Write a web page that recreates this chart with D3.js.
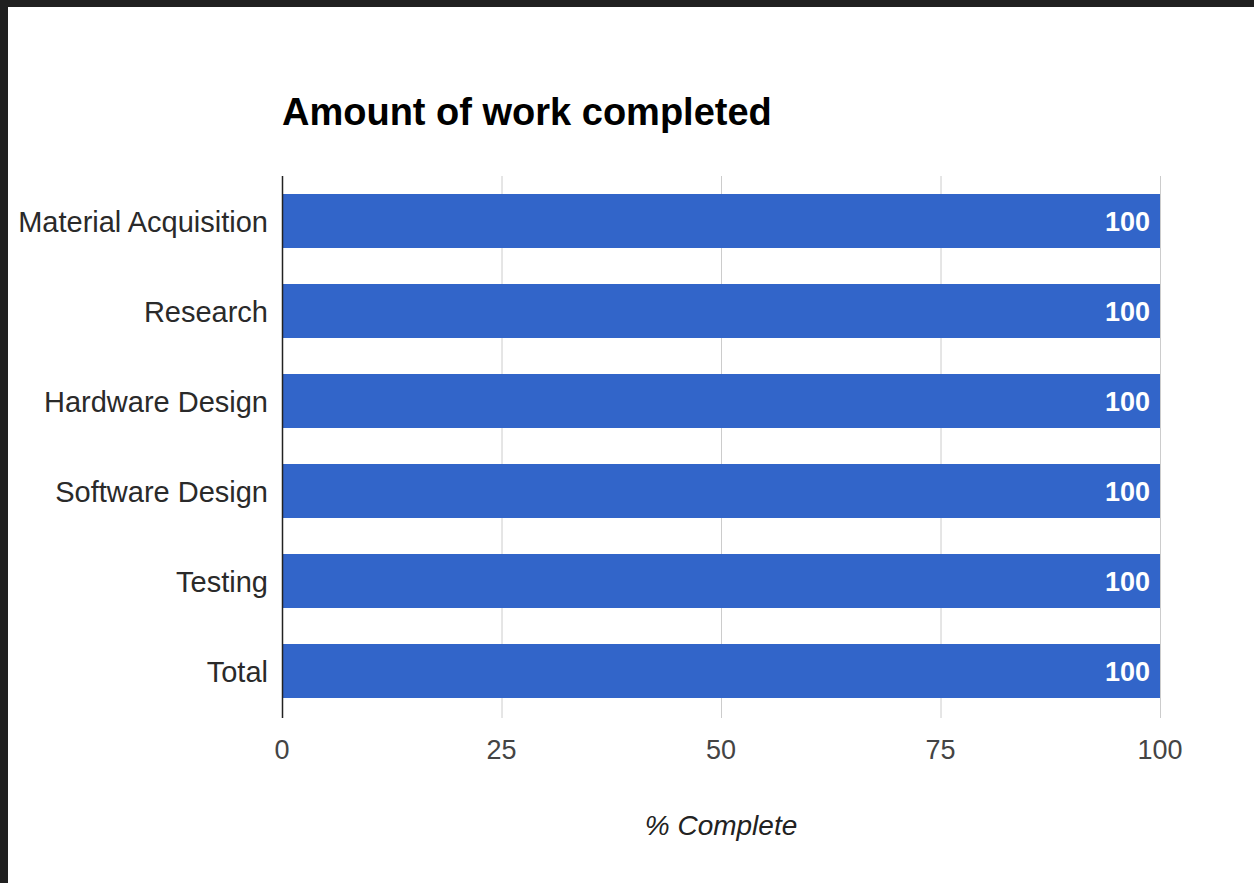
<!DOCTYPE html>
<html>
<head>
<meta charset="utf-8">
<script src="https://cdn.jsdelivr.net/npm/d3@7"></script>
<style>
  html, body { margin: 0; padding: 0; background: #fff; }
  svg { display: block; font-family: "Liberation Sans", Arial, sans-serif; }
</style>
</head>
<body>
<script>
// data
const categories = ["Material Acquisition", "Research", "Hardware Design",
                    "Software Design", "Testing", "Total"];
const percentComplete = [100, 100, 100, 100, 100, 100];
const xTicks = [0, 25, 50, 75, 100];

const WIDTH = 1254, HEIGHT = 883;
const PLOT_LEFT = 282, PLOT_RIGHT = 1160, PLOT_TOP = 176, PLOT_BOTTOM = 716;

const svg = d3.select("body").append("svg")
    .attr("width", WIDTH)
    .attr("height", HEIGHT);

svg.append("rect").attr("width", WIDTH).attr("height", HEIGHT).attr("fill", "#fff");

// dark frame of the screenshot (top and left edges)
svg.append("rect").attr("x", 0).attr("y", 0).attr("width", WIDTH).attr("height", 7).attr("fill", "#202020");
svg.append("rect").attr("x", 0).attr("y", 0).attr("width", 8).attr("height", HEIGHT).attr("fill", "#202020");

const x = d3.scaleLinear().domain([0, 100]).range([PLOT_LEFT, PLOT_RIGHT]);
const y = d3.scaleBand().domain(categories).range([PLOT_TOP, PLOT_BOTTOM])
    .paddingInner(0.4).paddingOuter(0.2);

// gridlines
svg.append("g")
    .selectAll("line")
    .data(xTicks.slice(1))
    .enter()
    .append("line")
        .attr("x1", d => x(d) + 0.5)
        .attr("x2", d => x(d) + 0.5)
        .attr("y1", PLOT_TOP)
        .attr("y2", PLOT_BOTTOM + 2)
        .attr("stroke", "#cccccc")
        .attr("stroke-width", 1);

// bars
svg.append("g")
    .selectAll("rect")
    .data(categories)
    .enter()
    .append("rect")
        .attr("x", x(0))
        .attr("y", d => y(d))
        .attr("width", (d, i) => x(percentComplete[i]) - x(0))
        .attr("height", y.bandwidth())
        .attr("fill", "#3265c9");

// value labels inside bars
svg.append("g")
    .selectAll("text")
    .data(categories)
    .enter()
    .append("text")
        .attr("x", (d, i) => x(percentComplete[i]) - 10)
        .attr("y", d => y(d) + y.bandwidth() / 2 + 9.5)
        .attr("text-anchor", "end")
        .attr("font-size", 27)
        .attr("font-weight", "bold")
        .attr("fill", "#ffffff")
        .text((d, i) => percentComplete[i]);

// baseline axis
svg.append("line")
    .attr("x1", PLOT_LEFT + 0.5).attr("x2", PLOT_LEFT + 0.5)
    .attr("y1", PLOT_TOP).attr("y2", PLOT_BOTTOM + 2)
    .attr("stroke", "#222")
    .attr("stroke-width", 1.5);

// category labels
svg.append("g")
    .selectAll("text")
    .data(categories)
    .enter()
    .append("text")
        .attr("x", PLOT_LEFT - 14)
        .attr("y", d => y(d) + y.bandwidth() / 2 + 10.5)
        .attr("text-anchor", "end")
        .attr("font-size", 29)
        .attr("fill", "#2a2a2a")
        .text(d => d);

// x tick labels
svg.append("g")
    .selectAll("text")
    .data(xTicks)
    .enter()
    .append("text")
        .attr("x", d => x(d))
        .attr("y", 759)
        .attr("text-anchor", "middle")
        .attr("font-size", 27)
        .attr("fill", "#444")
        .text(d => d);

// axis title
svg.append("text")
    .attr("x", (PLOT_LEFT + PLOT_RIGHT) / 2)
    .attr("y", 835)
    .attr("text-anchor", "middle")
    .attr("font-size", 28)
    .attr("font-style", "italic")
    .attr("fill", "#222")
    .text("% Complete");

// chart title
svg.append("text")
    .attr("x", PLOT_LEFT)
    .attr("y", 125)
    .attr("font-size", 38)
    .attr("font-weight", "bold")
    .attr("fill", "#000")
    .text("Amount of work completed");
</script>
</body>
</html>
